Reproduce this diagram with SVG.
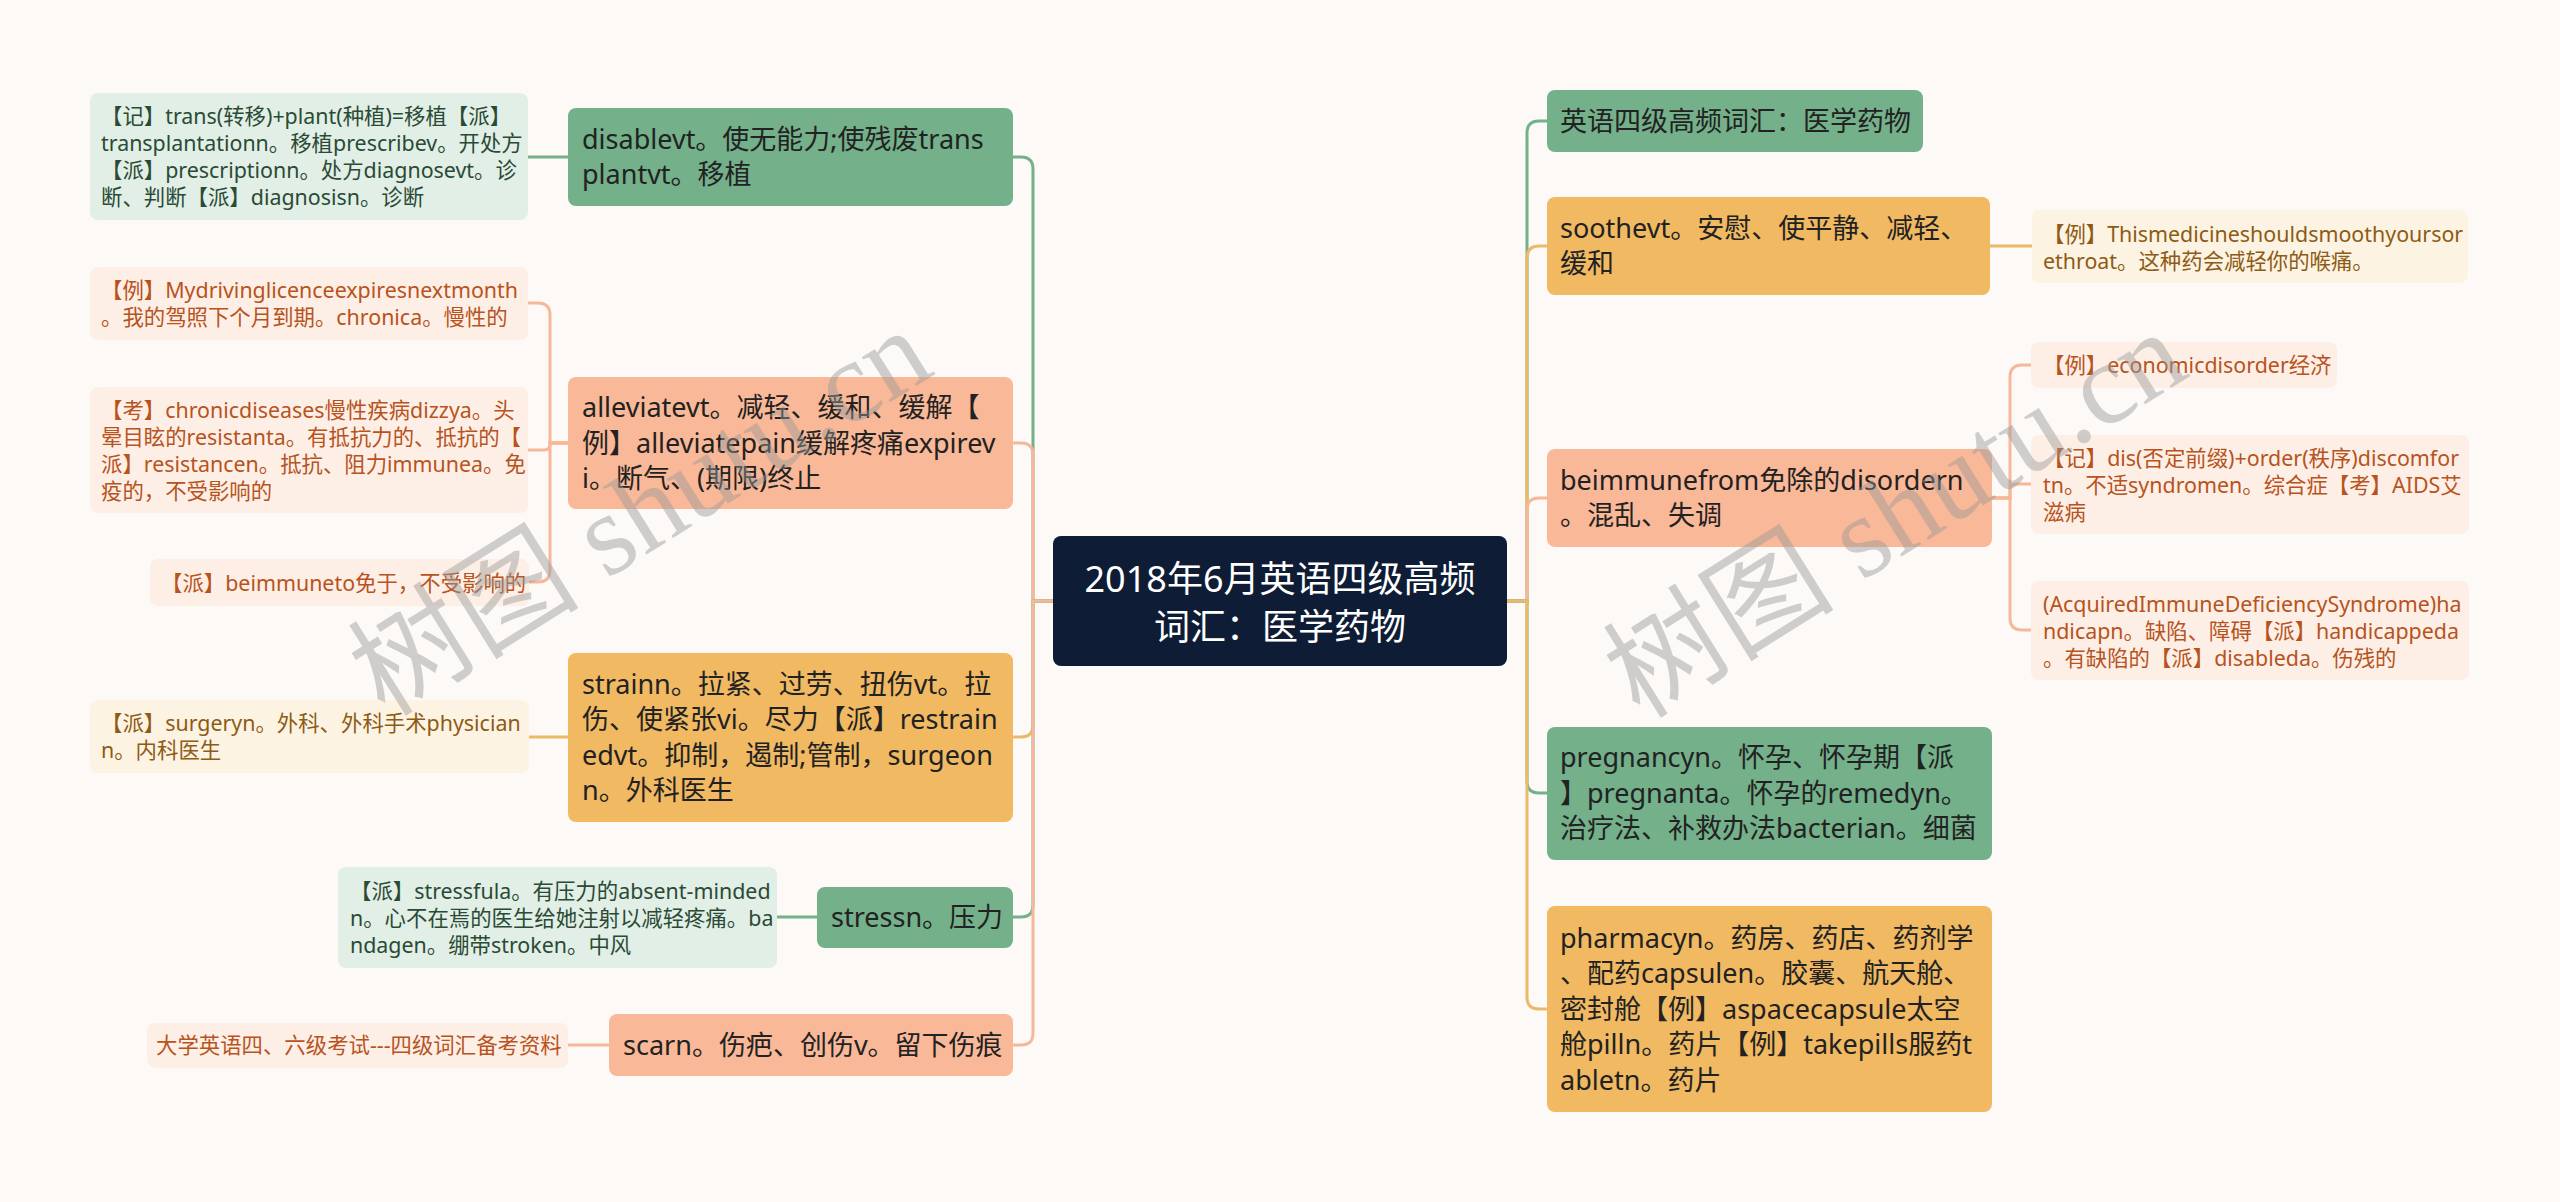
<svg xmlns="http://www.w3.org/2000/svg" width="2560" height="1202" viewBox="0 0 2560 1202">
<style>
text{font-family:"Noto Sans","Noto Sans CJK SC",sans-serif}
.g{fill:#74b08a}.s{fill:#f9b898}.o{fill:#f0b962}
.lg{fill:#e1efe6}.ls{fill:#fdefe6}.lo{fill:#fdf3e2}
.bt{font-size:27px;fill:#222}
.lt{font-size:21.4px}
.tg{fill:#2b4a35}.ts{fill:#b8531d}.to{fill:#8d5b16}
.c{fill:none;stroke-width:3}
.cg{stroke:#74b08a}.cs{stroke:#f5b899}.co{stroke:#ebba68}
.wm{font-family:"Liberation Serif","Noto Sans CJK SC",serif;font-size:116px;fill:#9a9a9a;opacity:0.45}
</style>
<rect width="2560" height="1202" fill="#fcf9f7"/>
<g id="connectors">
<path class="c cg" d="M1053,601 H1033 V169 Q1033,157 1021,157 H1013"/>
<path class="c cs" d="M1053,601 H1033 V455 Q1033,443 1021,443 H1013"/>
<path class="c co" d="M1053,601 H1033 V725 Q1033,737 1021,737 H1013"/>
<path class="c cg" d="M1053,601 H1033 V905 Q1033,917 1021,917 H1013"/>
<path class="c cs" d="M1053,601 H1033 V1033 Q1033,1045 1021,1045 H1013"/>
<path class="c cg" d="M1507,601 H1527 V133 Q1527,121 1539,121 H1547"/>
<path class="c co" d="M1507,601 H1527 V258 Q1527,246 1539,246 H1547"/>
<path class="c cs" d="M1507,601 H1527 V510 Q1527,498 1539,498 H1547"/>
<path class="c cg" d="M1507,601 H1527 V781 Q1527,793 1539,793 H1547"/>
<path class="c co" d="M1507,601 H1527 V997 Q1527,1009 1539,1009 H1547"/>
<path class="c cg" d="M568,157 H528"/>
<path class="c cs" d="M568,443 H550 V315 Q550,303 538,303 H528"/>
<path class="c cs" d="M568,443 H550 V444 Q550,450 544,450 H528"/>
<path class="c cs" d="M568,443 H550 V570 Q550,582 538,582 H529"/>
<path class="c co" d="M568,737 H529"/>
<path class="c cg" d="M817,917 H777"/>
<path class="c cs" d="M609,1045 H568"/>
<path class="c co" d="M1990,246 H2032"/>
<path class="c cs" d="M1992,498 H2010 V377 Q2010,365 2022,365 H2031"/>
<path class="c cs" d="M1992,498 H2010 V490 Q2010,484 2016,484 H2031"/>
<path class="c cs" d="M1992,498 H2010 V618 Q2010,630 2022,630 H2031"/>
</g>
<g id="center">
<rect x="1053" y="536" width="454" height="130" rx="8" fill="#0e1d35"/>
<text x="1280" y="592" font-size="36" fill="#fff" text-anchor="middle">2018年6月英语四级高频</text>
<text x="1280" y="640" font-size="36" fill="#fff" text-anchor="middle">词汇：医学药物</text>
</g>
<g id="disable">
<rect class="g" x="568" y="108" width="445" height="98" rx="8"/>
<text class="bt" x="582" y="149">disablevt。使无能力;使残废trans</text>
<text class="bt" x="582" y="184">plantvt。移植</text>
</g>
<g id="alleviate">
<rect class="s" x="568" y="377" width="445" height="132" rx="8"/>
<text class="bt" x="582" y="417">alleviatevt。减轻、缓和、缓解【</text>
<text class="bt" x="582" y="453">例】alleviatepain缓解疼痛expirev</text>
<text class="bt" x="582" y="488">i。断气、(期限)终止</text>
</g>
<g id="strain">
<rect class="o" x="568" y="653" width="445" height="169" rx="8"/>
<text class="bt" x="582" y="694">strainn。拉紧、过劳、扭伤vt。拉</text>
<text class="bt" x="582" y="729">伤、使紧张vi。尽力【派】restrain</text>
<text class="bt" x="582" y="765">edvt。抑制，遏制;管制，surgeon</text>
<text class="bt" x="582" y="800">n。外科医生</text>
</g>
<g id="stress">
<rect class="g" x="817" y="887" width="196" height="61" rx="8"/>
<text class="bt" x="831" y="927">stressn。压力</text>
</g>
<g id="scar">
<rect class="s" x="609" y="1014" width="404" height="62" rx="8"/>
<text class="bt" x="623" y="1055">scarn。伤疤、创伤v。留下伤痕</text>
</g>
<g id="r1">
<rect class="g" x="1547" y="90" width="376" height="62" rx="8"/>
<text class="bt" x="1560" y="131">英语四级高频词汇：医学药物</text>
</g>
<g id="soothe">
<rect class="o" x="1547" y="197" width="443" height="98" rx="8"/>
<text class="bt" x="1560" y="238">soothevt。安慰、使平静、减轻、</text>
<text class="bt" x="1560" y="273">缓和</text>
</g>
<g id="beimmune">
<rect class="s" x="1547" y="449" width="445" height="98" rx="8"/>
<text class="bt" x="1560" y="490">beimmunefrom免除的disordern</text>
<text class="bt" x="1560" y="525">。混乱、失调</text>
</g>
<g id="pregnancy">
<rect class="g" x="1547" y="727" width="445" height="133" rx="8"/>
<text class="bt" x="1560" y="767">pregnancyn。怀孕、怀孕期【派</text>
<text class="bt" x="1560" y="803">】pregnanta。怀孕的remedyn。</text>
<text class="bt" x="1560" y="838">治疗法、补救办法bacterian。细菌</text>
</g>
<g id="pharmacy">
<rect class="o" x="1547" y="906" width="445" height="206" rx="8"/>
<text class="bt" x="1560" y="948">pharmacyn。药房、药店、药剂学</text>
<text class="bt" x="1560" y="983">、配药capsulen。胶囊、航天舱、</text>
<text class="bt" x="1560" y="1019">密封舱【例】aspacecapsule太空</text>
<text class="bt" x="1560" y="1054">舱pilln。药片【例】takepills服药t</text>
<text class="bt" x="1560" y="1090">abletn。药片</text>
</g>
<g id="leaf-disable">
<rect class="lg" x="90" y="93" width="438" height="127" rx="8"/>
<text class="lt tg" x="101" y="124">【记】trans(转移)+plant(种植)=移植【派】</text>
<text class="lt tg" x="101" y="151">transplantationn。移植prescribev。开处方</text>
<text class="lt tg" x="101" y="178">【派】prescriptionn。处方diagnosevt。诊</text>
<text class="lt tg" x="101" y="205">断、判断【派】diagnosisn。诊断</text>
</g>
<g id="leaf-a1">
<rect class="ls" x="90" y="267" width="438" height="73" rx="8"/>
<text class="lt ts" x="101" y="298">【例】Mydrivinglicenceexpiresnextmonth</text>
<text class="lt ts" x="101" y="325">。我的驾照下个月到期。chronica。慢性的</text>
</g>
<g id="leaf-a2">
<rect class="ls" x="90" y="387" width="438" height="126" rx="8"/>
<text class="lt ts" x="101" y="418">【考】chronicdiseases慢性疾病dizzya。头</text>
<text class="lt ts" x="101" y="445">晕目眩的resistanta。有抵抗力的、抵抗的【</text>
<text class="lt ts" x="101" y="472">派】resistancen。抵抗、阻力immunea。免</text>
<text class="lt ts" x="101" y="499">疫的，不受影响的</text>
</g>
<g id="leaf-a3">
<rect class="ls" x="150" y="559" width="379" height="47" rx="8"/>
<text class="lt ts" x="161" y="591">【派】beimmuneto免于，不受影响的</text>
</g>
<g id="leaf-strain">
<rect class="lo" x="90" y="700" width="439" height="73" rx="8"/>
<text class="lt to" x="101" y="731">【派】surgeryn。外科、外科手术physician</text>
<text class="lt to" x="101" y="758">n。内科医生</text>
</g>
<g id="leaf-stress">
<rect class="lg" x="338" y="867" width="439" height="101" rx="8"/>
<text class="lt tg" x="350" y="899">【派】stressfula。有压力的absent-minded</text>
<text class="lt tg" x="350" y="926">n。心不在焉的医生给她注射以减轻疼痛。ba</text>
<text class="lt tg" x="350" y="953">ndagen。绷带stroken。中风</text>
</g>
<g id="leaf-scar">
<rect class="ls" x="147" y="1023" width="421" height="45" rx="8"/>
<text class="lt ts" x="156" y="1053">大学英语四、六级考试---四级词汇备考资料</text>
</g>
<g id="leaf-soothe">
<rect class="lo" x="2032" y="210" width="436" height="73" rx="8"/>
<text class="lt to" x="2043" y="242">【例】Thismedicineshouldsmoothyoursor</text>
<text class="lt to" x="2043" y="269">ethroat。这种药会减轻你的喉痛。</text>
</g>
<g id="leaf-ba">
<rect class="ls" x="2031" y="342" width="306" height="46" rx="8"/>
<text class="lt ts" x="2043" y="373">【例】economicdisorder经济</text>
</g>
<g id="leaf-bb">
<rect class="ls" x="2031" y="435" width="438" height="99" rx="8"/>
<text class="lt ts" x="2043" y="466">【记】dis(否定前缀)+order(秩序)discomfor</text>
<text class="lt ts" x="2043" y="493">tn。不适syndromen。综合症【考】AIDS艾</text>
<text class="lt ts" x="2043" y="520">滋病</text>
</g>
<g id="leaf-bc">
<rect class="ls" x="2031" y="581" width="438" height="99" rx="8"/>
<text class="lt ts" x="2043" y="612">(AcquiredImmuneDeficiencySyndrome)ha</text>
<text class="lt ts" x="2043" y="639">ndicapn。缺陷、障碍【派】handicappeda</text>
<text class="lt ts" x="2043" y="666">。有缺陷的【派】disableda。伤残的</text>
</g>
<g id="watermark">
<text class="wm" transform="translate(385,718) rotate(-32)">树图 shutu.cn</text>
<text class="wm" transform="translate(1640,720) rotate(-32)">树图 shutu.cn</text>
</g>
</svg>
